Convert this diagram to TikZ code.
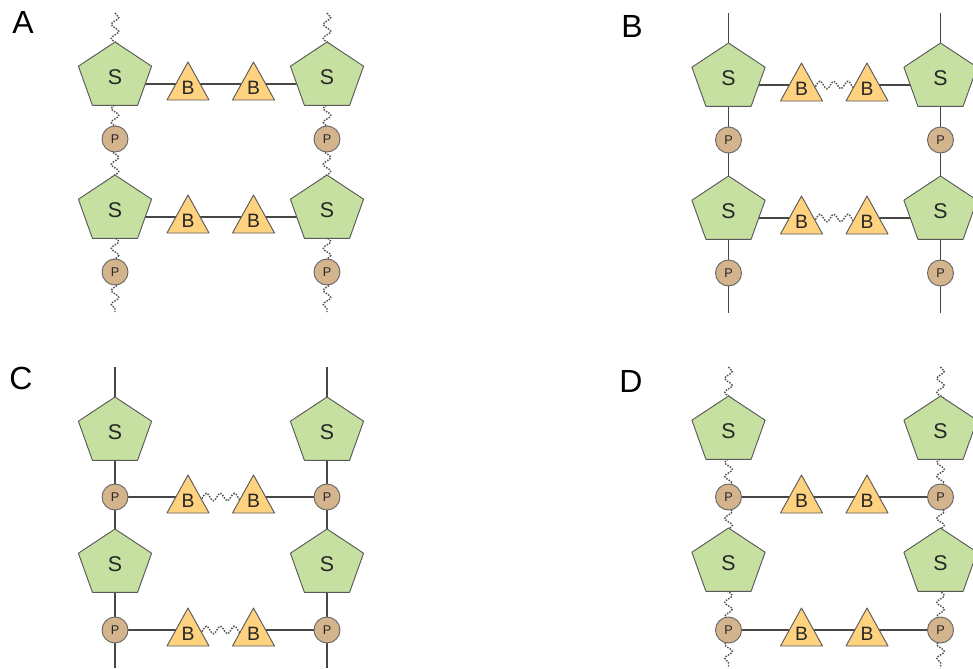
\documentclass[tikz,border=0pt]{standalone}
\usepackage{fontspec}
\setmainfont{Liberation Sans}
\usetikzlibrary{decorations.pathmorphing}
\pgfdeclarelayer{bg}\pgfsetlayers{bg,main}
\definecolor{sugargreen}{RGB}{197,224,160}
\definecolor{baseorange}{RGB}{255,210,128}
\definecolor{phostan}{RGB}{212,180,140}
\tikzset{
 bond/.style={draw=black!72, line width=0.8pt},
 wbond/.style={draw=black!68, line width=1.1pt, densely dotted, decorate,
   decoration={snake, amplitude=2.8pt, segment length=10.5pt}},
 sugarfill/.style={fill=sugargreen, draw=black!65, line width=0.7pt, line join=round},
 sugartext/.style={font=\fontsize{16}{16}\selectfont, inner sep=0pt, text=black!85},
 basefill/.style={fill=baseorange, draw=black!65, line width=0.7pt, line join=round},
 basetext/.style={font=\fontsize{14.5}{14.5}\selectfont, inner sep=0pt, text=black!85},
 phos/.style={circle, fill=phostan, draw=black!60, line width=0.7pt, minimum size=19.5pt,
   inner sep=0pt, font=\fontsize{9.5}{9.5}\selectfont, text=black!85},
 panel/.style={font=\fontsize{24}{24}\selectfont, inner sep=0pt}
}
% #1 name, #2 x, #3 y (pentagon centre)
\newcommand\mysugar[3]{%
  \draw[sugarfill, shift={(#2,#3)}] (0,-35) -- (36.6,-10.8) -- (22.6,28.3) -- (-22.6,28.3) -- (-36.6,-10.8) -- cycle;
  \node[sugartext] (#1t) at (#2,#3) {S};}
% #1 name, #2 x, #3 bond line y
\newcommand\mybase[3]{%
  \coordinate (#1) at (#2,#3);
  \draw[basefill] (#2-21,#3+16) -- (#2+21,#3+16) -- (#2,#3-22) -- cycle;
  \node[basetext] (#1t) at (#2,#3+3.5) {B};}
\begin{document}
\begin{tikzpicture}[x=0.75pt,y=-0.75pt]
\useasboundingbox (0,0) rectangle (973,668);

% ---------------- Panel labels
\node[panel] (labA) at (23,22) {A};
\node[panel] (labB) at (632,26) {B};
\node[panel] (labC) at (21,378) {C};
\node[panel] (labD) at (631,381) {D};

% ---------------- Panel A
\coordinate (AtL) at (115,13); \coordinate (AbL) at (115,312);
\coordinate (AtR) at (327,13); \coordinate (AbR) at (327,312);
\mysugar{AS1L}{115}{77} \mysugar{AS1R}{327}{77}
\mysugar{AS2L}{115}{210} \mysugar{AS2R}{327}{210}
\node[phos] (AP1L) at (115,139) {P}; \node[phos] (AP1R) at (327,139) {P};
\node[phos] (AP2L) at (115,272) {P}; \node[phos] (AP2R) at (327,272) {P};
\mybase{Ab11}{188}{84} \mybase{Ab12}{253.5}{84}
\mybase{Ab21}{188}{217} \mybase{Ab22}{253.5}{217}
\begin{pgfonlayer}{bg}
\draw[wbond] (AtL) -- (AS1Lt.center) -- (AP1L.center) -- (AS2Lt.center) -- (AP2L.center) -- (AbL);
\draw[wbond] (AtR) -- (AS1Rt.center) -- (AP1R.center) -- (AS2Rt.center) -- (AP2R.center) -- (AbR);
\draw[bond] (AS1Lt |- Ab11) -- (Ab11) -- (Ab12) -- (AS1Rt |- Ab12);
\draw[bond] (AS2Lt |- Ab21) -- (Ab21) -- (Ab22) -- (AS2Rt |- Ab22);
\end{pgfonlayer}

% ---------------- Panel B
\coordinate (BtL) at (728.5,13); \coordinate (BbL) at (728.5,313);
\coordinate (BtR) at (940.5,13); \coordinate (BbR) at (940.5,313);
\mysugar{BS1L}{728.5}{78} \mysugar{BS1R}{940.5}{78}
\mysugar{BS2L}{728.5}{211} \mysugar{BS2R}{940.5}{211}
\node[phos] (BP1L) at (728.5,140) {P}; \node[phos] (BP1R) at (940.5,140) {P};
\node[phos] (BP2L) at (728.5,273) {P}; \node[phos] (BP2R) at (940.5,273) {P};
\mybase{Bb11}{801.5}{85} \mybase{Bb12}{867}{85}
\mybase{Bb21}{801.5}{218} \mybase{Bb22}{867}{218}
\begin{pgfonlayer}{bg}
\draw[bond] (BtL) -- (BS1Lt.center) -- (BP1L.center) -- (BS2Lt.center) -- (BP2L.center) -- (BbL);
\draw[bond] (BtR) -- (BS1Rt.center) -- (BP1R.center) -- (BS2Rt.center) -- (BP2R.center) -- (BbR);
\draw[bond] (BS1Lt |- Bb11) -- (Bb11);
\draw[wbond] (Bb11) -- (Bb12);
\draw[bond] (Bb12) -- (BS1Rt |- Bb12);
\draw[bond] (BS2Lt |- Bb21) -- (Bb21);
\draw[wbond] (Bb21) -- (Bb22);
\draw[bond] (Bb22) -- (BS2Rt |- Bb22);
\end{pgfonlayer}

% ---------------- Panel C
\coordinate (CtL) at (115,367); \coordinate (CbL) at (115,668);
\coordinate (CtR) at (327,367); \coordinate (CbR) at (327,668);
\mysugar{CS1L}{115}{432} \mysugar{CS1R}{327}{432}
\mysugar{CS2L}{115}{564} \mysugar{CS2R}{327}{564}
\node[phos] (CP1L) at (115,497) {P}; \node[phos] (CP1R) at (327,497) {P};
\node[phos] (CP2L) at (115,630) {P}; \node[phos] (CP2R) at (327,630) {P};
\mybase{Cb11}{188}{497} \mybase{Cb12}{253.5}{497}
\mybase{Cb21}{188}{630} \mybase{Cb22}{253.5}{630}
\begin{pgfonlayer}{bg}
\draw[bond] (CtL) -- (CS1Lt.center) -- (CP1L.center) -- (CS2Lt.center) -- (CP2L.center) -- (CbL);
\draw[bond] (CtR) -- (CS1Rt.center) -- (CP1R.center) -- (CS2Rt.center) -- (CP2R.center) -- (CbR);
\draw[bond] (CP1L) -- (Cb11);
\draw[wbond] (Cb11) -- (Cb12);
\draw[bond] (Cb12) -- (CP1R);
\draw[bond] (CP2L) -- (Cb21);
\draw[wbond] (Cb21) -- (Cb22);
\draw[bond] (Cb22) -- (CP2R);
\end{pgfonlayer}

% ---------------- Panel D
\coordinate (DtL) at (728.5,367); \coordinate (DbL) at (728.5,668);
\coordinate (DtR) at (940.5,367); \coordinate (DbR) at (940.5,668);
\mysugar{DS1L}{728.5}{431} \mysugar{DS1R}{940.5}{431}
\mysugar{DS2L}{728.5}{563} \mysugar{DS2R}{940.5}{563}
\node[phos] (DP1L) at (728.5,497) {P}; \node[phos] (DP1R) at (940.5,497) {P};
\node[phos] (DP2L) at (728.5,630) {P}; \node[phos] (DP2R) at (940.5,630) {P};
\mybase{Db11}{801.5}{497} \mybase{Db12}{867}{497}
\mybase{Db21}{801.5}{630} \mybase{Db22}{867}{630}
\begin{pgfonlayer}{bg}
\draw[wbond] (DtL) -- (DS1Lt.center) -- (DP1L.center) -- (DS2Lt.center) -- (DP2L.center) -- (DbL);
\draw[wbond] (DtR) -- (DS1Rt.center) -- (DP1R.center) -- (DS2Rt.center) -- (DP2R.center) -- (DbR);
\draw[bond] (DP1L) -- (Db11) -- (Db12) -- (DP1R);
\draw[bond] (DP2L) -- (Db21) -- (Db22) -- (DP2R);
\end{pgfonlayer}
\end{tikzpicture}
\end{document}
